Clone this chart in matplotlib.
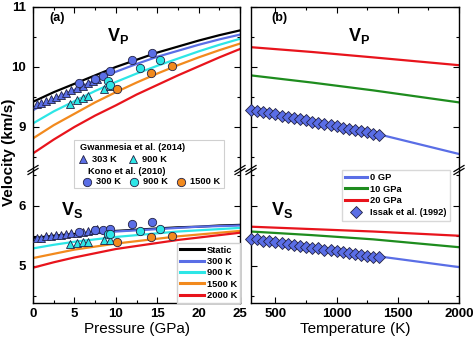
import matplotlib.pyplot as plt
from matplotlib.lines import Line2D
from matplotlib.patches import Rectangle
from matplotlib.ticker import MultipleLocator

plt.rcParams['font.family'] = ['Liberation Sans', 'DejaVu Sans']
plt.rcParams['font.weight'] = 'bold'
plt.rcParams['mathtext.fontset'] = 'custom'
plt.rcParams['mathtext.rm'] = 'Liberation Sans:bold'
plt.rcParams['mathtext.it'] = 'Liberation Sans:bold'
plt.rcParams['mathtext.bf'] = 'Liberation Sans:bold'

W, H = 474, 339

# (a) model curves vs pressure
pressure = [0, 2.5, 5, 7.5, 10, 12.5, 15, 17.5, 20, 22.5, 25]
vp_static = [9.42, 9.58, 9.72, 9.86, 10.00, 10.12, 10.24, 10.34, 10.44, 10.53, 10.61]
vp_300 = [9.28, 9.46, 9.62, 9.78, 9.92, 10.05, 10.17, 10.27, 10.37, 10.46, 10.54]
vp_900 = [9.06, 9.26, 9.43, 9.60, 9.75, 9.89, 10.02, 10.14, 10.26, 10.37, 10.47]
vp_1500 = [8.81, 9.03, 9.22, 9.41, 9.58, 9.74, 9.89, 10.03, 10.16, 10.28, 10.39]
vp_2000 = [8.56, 8.79, 9.00, 9.19, 9.36, 9.54, 9.70, 9.86, 10.01, 10.16, 10.30]
vs_static = [5.46, 5.50, 5.53, 5.56, 5.58, 5.60, 5.62, 5.64, 5.65, 5.67, 5.68]
vs_300 = [5.43, 5.47, 5.51, 5.54, 5.57, 5.59, 5.61, 5.63, 5.65, 5.66, 5.67]
vs_900 = [5.29, 5.35, 5.40, 5.44, 5.48, 5.51, 5.54, 5.57, 5.59, 5.61, 5.63]
vs_1500 = [5.13, 5.20, 5.27, 5.32, 5.37, 5.41, 5.45, 5.49, 5.52, 5.55, 5.58]
vs_2000 = [4.97, 5.06, 5.14, 5.21, 5.28, 5.33, 5.38, 5.43, 5.47, 5.51, 5.55]

# Gwanmesia et al. (2014)
gw303_p = [0.5, 1.0, 1.6, 2.2, 2.8, 3.4, 4.0, 4.6, 5.3, 6.0, 6.6, 7.2, 7.7]
gw303_vp = [9.38, 9.40, 9.44, 9.47, 9.50, 9.53, 9.57, 9.61, 9.65, 9.69, 9.73, 9.77, 9.80]
gw303_vs = [5.46, 5.47, 5.49, 5.50, 5.51, 5.52, 5.53, 5.54, 5.55, 5.57, 5.58, 5.60, 5.61]
gw900_p = [4.5, 5.3, 6.0, 6.7, 8.6, 9.3]
gw900_vp = [9.39, 9.45, 9.49, 9.52, 9.64, 9.68]
gw900_vs = [5.36, 5.38, 5.39, 5.40, 5.43, 5.43]

# Kono et al. (2010)
ko300_p = [5.5, 7.5, 8.5, 9.3, 11.9, 14.4]
ko300_vp = [9.73, 9.80, 9.85, 9.94, 10.12, 10.23]
ko300_vs = [5.57, 5.60, 5.60, 5.62, 5.69, 5.72]
ko900_p = [9.1, 9.3, 12.9, 15.3]
ko900_vp = [9.76, 9.70, 9.98, 10.11]
ko900_vs = [5.53, 5.53, 5.58, 5.61]
ko1500_p = [10.2, 14.2, 16.75]
ko1500_vp = [9.63, 9.90, 10.02]
ko1500_vs = [5.40, 5.48, 5.50]

# (b) model curves vs temperature
temp_line = [300, 800, 1300, 2000]
vp_0gpa = [9.30, 9.11, 8.90, 8.55]
vp_10gpa = [9.86, 9.74, 9.61, 9.41]
vp_20gpa = [10.33, 10.25, 10.16, 10.03]
vs_0gpa = [5.45, 5.31, 5.17, 4.98]
vs_10gpa = [5.57, 5.51, 5.44, 5.31]
vs_20gpa = [5.65, 5.61, 5.57, 5.50]

# Issak et al. (1992)
issak_t = [300, 350, 400, 450, 500, 550, 600, 650, 700, 750, 800,
           850, 900, 950, 1000, 1050, 1100, 1150, 1200, 1250, 1300, 1350]
issak_vp = [9.29, 9.27, 9.25, 9.23, 9.21, 9.19, 9.17, 9.15, 9.13, 9.11, 9.09,
            9.07, 9.05, 9.03, 9.01, 8.99, 8.97, 8.95, 8.93, 8.91, 8.89, 8.87]
issak_vs = [5.45, 5.44, 5.42, 5.41, 5.39, 5.38, 5.36, 5.35, 5.33, 5.32, 5.30,
            5.29, 5.27, 5.26, 5.24, 5.23, 5.21, 5.20, 5.18, 5.17, 5.15, 5.14]

BLACK = '#000000'
BLUE = '#5a6ee6'
CYAN = '#2de6e6'
ORANGE = '#f28a1e'
RED = '#e8141c'
GREEN = '#1e8c1e'
EDGE = '#222244'


def fx(px):
    return px / W


def fy(py):
    return 1 - py / H


fig = plt.figure(figsize=(W / 100, H / 100), dpi=100)

y_top, y_brk, y_bot = 7, 170, 302.7
panels = {'a': (33, 240), 'b': (251, 459)}
axes = {}
for key, (x0, x1) in panels.items():
    up = fig.add_axes([fx(x0), fy(y_brk), (x1 - x0) / W, (y_brk - y_top) / H])
    lo = fig.add_axes([fx(x0), fy(y_bot), (x1 - x0) / W, (y_bot - y_brk) / H])
    up.set_ylim(8.283, 11)
    lo.set_ylim(4.39, 6.59)
    up.spines['bottom'].set_visible(False)
    lo.spines['top'].set_visible(False)
    for ax in (up, lo):
        ax.yaxis.set_major_locator(MultipleLocator(1))
        ax.yaxis.set_minor_locator(MultipleLocator(0.5))
        ax.tick_params(which='both', direction='in', right=True, labelsize=9.5, width=0.8)
        ax.tick_params(which='major', length=4)
        ax.tick_params(which='minor', length=2)
        ax.tick_params(axis='y', pad=5)
        for s in ax.spines.values():
            s.set_linewidth(1.0)
    up.tick_params(axis='x', which='both', bottom=False, top=True, labelbottom=False)
    lo.tick_params(axis='x', which='both', bottom=True, top=False)
    if key == 'b':
        up.tick_params(axis='y', labelleft=False)
        lo.tick_params(axis='y', labelleft=False)
    axes[key] = (up, lo)

# panel (a)
up, lo = axes['a']
for ax in (up, lo):
    ax.set_xlim(0, 25)
    ax.xaxis.set_major_locator(MultipleLocator(5))
    ax.xaxis.set_minor_locator(MultipleLocator(2.5))

curves = [(vp_static, vs_static, BLACK, 'Static'),
          (vp_300, vs_300, BLUE, '300 K'),
          (vp_900, vs_900, CYAN, '900 K'),
          (vp_1500, vs_1500, ORANGE, '1500 K'),
          (vp_2000, vs_2000, RED, '2000 K')]
for vp, vs, c, lab in curves:
    up.plot(pressure, vp, color=c, lw=1.6, zorder=2)
    lo.plot(pressure, vs, color=c, lw=1.6, zorder=2, label=lab)

mk = dict(ls='none', mec=EDGE, mew=0.6, zorder=3, clip_on=False)
up.plot(gw303_p, gw303_vp, marker='^', ms=6, mfc=BLUE, **mk)
lo.plot(gw303_p, gw303_vs, marker='^', ms=6, mfc=BLUE, **mk)
up.plot(gw900_p, gw900_vp, marker='^', ms=6, mfc=CYAN, **mk)
lo.plot(gw900_p, gw900_vs, marker='^', ms=6, mfc=CYAN, **mk)
for p, vp, vs, c in [(ko300_p, ko300_vp, ko300_vs, BLUE),
                     (ko900_p, ko900_vp, ko900_vs, CYAN),
                     (ko1500_p, ko1500_vp, ko1500_vs, ORANGE)]:
    up.plot(p, vp, marker='o', ms=6, mfc=c, **mk)
    lo.plot(p, vs, marker='o', ms=6, mfc=c, **mk)

leg = lo.legend(loc='lower right', fontsize=6.7, handlelength=2.6, handletextpad=0.3,
                labelspacing=0.25, borderpad=0.3, borderaxespad=0.0, fancybox=False,
                edgecolor='#d0d0d0', framealpha=1)
for ln in leg.get_lines():
    ln.set_linewidth(2.2)

up.text(0.08, 0.93, '(a)', transform=up.transAxes, fontsize=9, ha='left', va='center')
up.text(0.41, 0.79, r'$\mathregular{V_P}$', transform=up.transAxes, fontsize=13, ha='center')
lo.text(0.19, 0.66, r'$\mathregular{V_S}$', transform=lo.transAxes, fontsize=13, ha='center')
lo.set_xlabel('Pressure (GPa)', fontsize=11, labelpad=2)

# panel (b)
up, lo = axes['b']
for ax in (up, lo):
    ax.set_xlim(300, 2000)
    ax.xaxis.set_major_locator(MultipleLocator(500))
    ax.xaxis.set_minor_locator(MultipleLocator(250))

up.plot(temp_line, vp_0gpa, color=BLUE, lw=1.6)
up.plot(temp_line, vp_10gpa, color=GREEN, lw=1.6)
up.plot(temp_line, vp_20gpa, color=RED, lw=1.6)
lo.plot(temp_line, vs_0gpa, color=BLUE, lw=1.6)
lo.plot(temp_line, vs_10gpa, color=GREEN, lw=1.6)
lo.plot(temp_line, vs_20gpa, color=RED, lw=1.6)
up.plot(issak_t, issak_vp, marker='D', ms=6.2, mfc=BLUE, **mk)
lo.plot(issak_t, issak_vs, marker='D', ms=6.2, mfc=BLUE, **mk)

up.text(0.1, 0.93, '(b)', transform=up.transAxes, fontsize=9, ha='left', va='center')
up.text(0.52, 0.79, r'$\mathregular{V_P}$', transform=up.transAxes, fontsize=13, ha='center')
lo.text(0.15, 0.66, r'$\mathregular{V_S}$', transform=lo.transAxes, fontsize=13, ha='center')
lo.set_xlabel('Temperature (K)', fontsize=11, labelpad=2)

handles_b = [Line2D([], [], color=BLUE, lw=2.2),
             Line2D([], [], color=GREEN, lw=2.2),
             Line2D([], [], color=RED, lw=2.2),
             Line2D([], [], ls='none', marker='D', ms=6, mfc=BLUE, mec=EDGE, mew=0.6)]
fig.legend(handles_b, ['0 GP', '10 GPa', '20 GPa', 'Issak et al. (1992)'],
           loc='upper left', bbox_to_anchor=(fx(337), fy(165)), fontsize=6.7,
           handlelength=2.4, handletextpad=0.3, labelspacing=0.3, borderpad=0.35,
           fancybox=False, edgecolor='#d8d8d8', framealpha=1)

# data legend of panel (a), spanning the axis break
fig.add_artist(Rectangle((fx(74), fy(188)), (224 - 74) / W, (188 - 140) / H,
                         transform=fig.transFigure, facecolor='white',
                         edgecolor='#d0d0d0', lw=0.8, zorder=5))
fig.text(fx(80), fy(148), 'Gwanmesia et al. (2014)', fontsize=6.7, va='center', zorder=6)
fig.text(fx(88), fy(171), 'Kono et al. (2010)', fontsize=6.7, va='center', zorder=6)
key_a = [(83, 159, '^', BLUE, '303 K'), (133, 159, '^', CYAN, '900 K'),
         (87, 182, 'o', BLUE, '300 K'), (134, 182, 'o', CYAN, '900 K'),
         (181, 182, 'o', ORANGE, '1500 K')]
for px, py, m, c, lab in key_a:
    fig.add_artist(Line2D([fx(px)], [fy(py)], transform=fig.transFigure, marker=m,
                          ms=6, mfc=c, mec=EDGE, mew=0.6, zorder=6))
    fig.text(fx(px + 9), fy(py), lab, fontsize=6.7, va='center', zorder=6)

# break marks on each vertical spine
for xs in (33, 240, 251, 459):
    for dy in (-1.5, 1.5):
        fig.add_artist(Line2D([fx(xs - 5), fx(xs + 5)], [fy(y_brk + 3 + dy), fy(y_brk - 3 + dy)],
                              transform=fig.transFigure, color='black', lw=0.9, zorder=7))

fig.text(fx(9), fy(152), 'Velocity (km/s)', rotation=90, fontsize=11, ha='center', va='center')

fig.savefig('out.png', dpi=100)
